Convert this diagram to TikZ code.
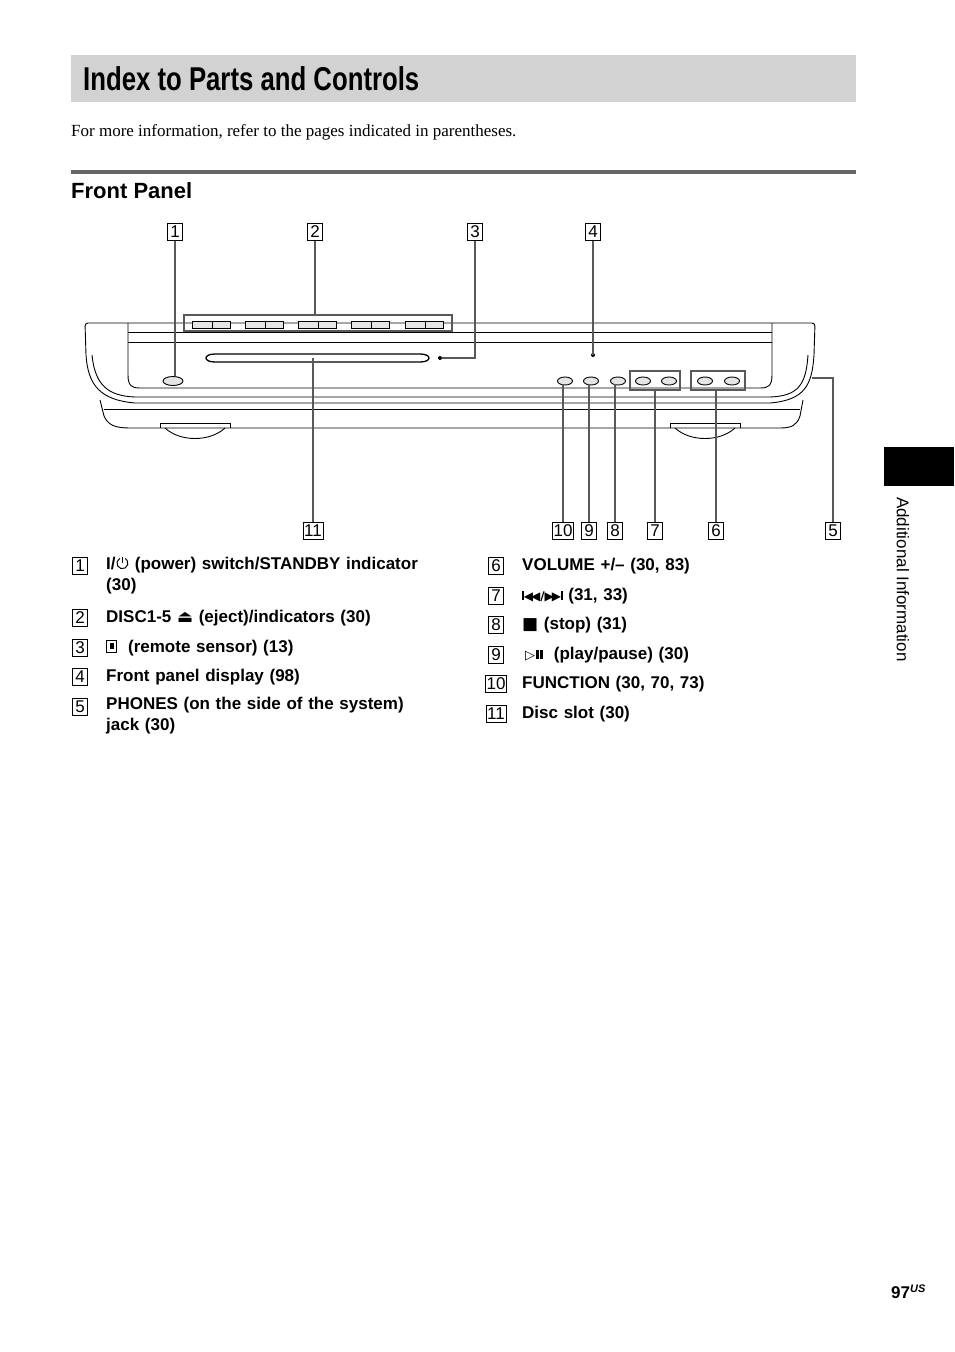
\documentclass[tikz,border=0pt]{standalone}
\usepackage{fontspec}
\setmainfont{Liberation Serif}
\setsansfont{Liberation Sans}
\newfontfamily\symfont{DejaVu Sans}
\newcommand\powersym{\tikz[baseline=0pt, line width=1pt]{\draw (120:5.5pt) ++(0,6pt) arc[start angle=120, end angle=420, radius=5.5pt]; \draw (0,6pt) -- (0,12.5pt);}}
\begin{document}
\begin{tikzpicture}[x=1pt,y=-1pt,
		numbox/.style={draw, font=\sffamily\fontsize{17}{17}\selectfont, inner sep=1.2pt, minimum width=15pt, minimum height=17pt},
		leader/.style={draw=gray!70!black, line width=1.6pt},
		body/.style={draw, line width=0.9pt},
		btn/.style={draw, line width=0.9pt, fill=gray!20},
		legend/.style={anchor=west, font=\sffamily\bfseries\fontsize{17}{21}\selectfont, align=left, text width=340pt},
		every node/.append style={inner sep=0pt}
		]
		\useasboundingbox (0,0) rectangle (954,1352);
		
		% Header
		\fill[gray!35] (71,55) rectangle (856,102);
		\node[anchor=west, font=\sffamily\bfseries\fontsize{33}{33}\selectfont] (title) at (83,79) {\scalebox{0.78}[1]{Index to Parts and Controls}};
		\node[anchor=west, font=\fontsize{17}{17}\selectfont] (intro) at (71,132) {For more information, refer to the pages indicated in parentheses.};
		\draw[gray!80!black, line width=3.5pt] (71,172) -- (856,172);
		\node[anchor=west, font=\sffamily\bfseries\fontsize{22}{22}\selectfont] (front) at (71,191) {Front Panel};
		
		% Side tab
		\fill (884,447) rectangle (954,486);
		\node[rotate=-90, anchor=west, font=\sffamily\fontsize{17}{17}\selectfont] (side) at (903,497) {Additional Information};
		\node[anchor=west, font=\sffamily\bfseries\fontsize{17}{17}\selectfont] (page) at (891,1292) {97\textsuperscript{\textit{\fontsize{11}{11}\selectfont US}}};
		
		% Unit body
		\draw[body, rounded corners=3pt] (86,355) -- (85,323) -- (815,323) -- (814,355);
		\draw[body] (86,355) .. controls (88,385) and (100,400) .. (135,403) -- (770,403) .. controls (805,400) and (812,385) .. (814,355);
		\draw[body] (92,355) .. controls (95,385) and (108,396) .. (135,397) -- (770,397) .. controls (798,396) and (806,385) .. (808,355);
		\draw[body] (100,400) -- (104,416) .. controls (108,425) and (115,428) .. (130,428) -- (780,428) .. controls (792,428) and (797,425) .. (800,416) -- (803,400);
		\draw[body] (104,409) -- (800,409);
		\draw[body] (128,332) -- (772,332);
		\draw[body] (128,342) -- (772,342);
		\draw[body] (128,323) -- (128,375) .. controls (128,386) and (132,388) .. (140,388) -- (760,388) .. controls (768,388) and (772,386) .. (772,375) -- (772,323);
		% Feet
		\foreach \fx in {195,705}{
			\draw[body] (\fx-35,423) -- (\fx-35,428) (\fx+35,423) -- (\fx+35,428);
			\draw[body] (\fx-35,423) -- (\fx+35,423);
			\draw[body] (\fx-30,428) .. controls (\fx-15,442) and (\fx+15,442) .. (\fx+30,428);
		}
		% Disc slot, sensor, display
		\draw[body, line width=1.3pt] (215,354) -- (420,354) .. controls (432,354) and (432,362) .. (420,362) -- (215,362) .. controls (203,362) and (203,354) .. (215,354);
		\fill (440,358) circle (2pt);
		\fill (593,355) circle (2pt);
		% Disc buttons
		\foreach \bx in {192,245,298,351,405}{
			\draw[btn] (\bx,321) rectangle (\bx+20,328);
			\draw[btn] (\bx+20,321) rectangle (\bx+38,328);
		}
		\draw[gray!70!black, line width=1.6pt] (184,315) rectangle (452,331);
		% Power and control buttons
		\draw[btn] (173,381) ellipse (10pt and 4.5pt);
		\foreach \cx in {565,591,618,643,669,705,732}{
			\draw[btn] (\cx,381) ellipse (7.5pt and 4pt);
		}
		\draw[gray!70!black, line width=1.6pt] (630,371) rectangle (680,390);
		\draw[gray!70!black, line width=1.6pt] (691,371) rectangle (745,390);
		
		% Labels
		\node[numbox] (n1) at (175,232) {1};
		\node[numbox] (n2) at (315,232) {2};
		\node[numbox] (n3) at (475,232) {3};
		\node[numbox] (n4) at (593,232) {4};
		\node[numbox] (n11) at (313,531) {11};
		\node[numbox] (n10) at (563,531) {10};
		\node[numbox] (n9) at (589,531) {9};
		\node[numbox] (n8) at (615,531) {8};
		\node[numbox] (n7) at (655,531) {7};
		\node[numbox] (n6) at (716,531) {6};
		\node[numbox] (n5) at (833,531) {5};
		\coordinate (p1) at (175,376);
		\coordinate (p2) at (315,315);
		\coordinate (p3) at (475,358);
		\coordinate (p3e) at (442,358);
		\coordinate (p4) at (593,355);
		\coordinate (p11) at (313,358);
		\coordinate (p10) at (563,384);
		\coordinate (p9) at (589,384);
		\coordinate (p8) at (615,384);
		\coordinate (p7) at (655,390);
		\coordinate (p6) at (716,390);
		\coordinate (p5) at (833,378);
		\coordinate (p5e) at (812,378);
		\draw[leader] (n1) -- (p1);
		\draw[leader] (n2) -- (p2);
		\draw[leader] (n3) -- (p3) -- (p3e);
		\draw[leader] (n4) -- (p4);
		\draw[leader] (n11) -- (p11);
		\draw[leader] (n10) -- (p10);
		\draw[leader] (n9) -- (p9);
		\draw[leader] (n8) -- (p8);
		\draw[leader] (n7) -- (p7);
		\draw[leader] (n6) -- (p6);
		\draw[leader] (n5) -- (p5) -- (p5e);
		
		% Legend, left column
		\node[numbox] (l1) at (80,566) {1};
		\node[legend, anchor=north west] (t1) at (106,556) {I/\powersym\ (power) switch/STANDBY indicator\\(30)};
		\node[numbox] (l2) at (80,618) {2};
		\node[legend] (t2) at (106,618) {DISC1-5 {\symfont ⏏} (eject)/indicators (30)};
		\node[numbox] (l3) at (80,648) {3};
		\node[legend] (t3) at (106,648) {\tikz[baseline=0pt]{\draw[line width=0.6pt] (0,0) rectangle (10pt,12pt);\fill (3pt,3pt) rectangle (7pt,9pt);}\ \ (remote sensor) (13)};
		\node[numbox] (l4) at (80,677) {4};
		\node[legend] (t4) at (106,677) {Front panel display (98)};
		\node[numbox] (l5) at (80,707) {5};
		\node[legend, anchor=north west] (t5) at (106,697) {PHONES (on the side of the system)\\jack (30)};
		
		% Legend, right column
		\node[numbox] (l6) at (496,566) {6};
		\node[legend] (t6) at (522,566) {VOLUME +/– (30, 83)};
		\node[numbox] (l7) at (496,596) {7};
		\node[legend] (t7) at (522,596) {{\symfont\fontsize{12}{12}\selectfont\rule{1.6pt}{9pt}◀\kern-2pt◀/▶\kern-2pt▶\rule{1.6pt}{9pt}} (31, 33)};
		\node[numbox] (l8) at (496,625) {8};
		\node[legend] (t8) at (522,625) {{\symfont ■} (stop) (31)};
		\node[numbox] (l9) at (496,655) {9};
		\node[legend] (t9) at (522,655) {\,{\symfont\fontsize{13}{13}\selectfont ▷}\kern1pt\rule{2.5pt}{9pt}\kern1.5pt\rule{2.5pt}{9pt}\ \ (play/pause) (30)};
		\node[numbox] (l10) at (496,684) {10};
		\node[legend] (t10) at (522,684) {FUNCTION (30, 70, 73)};
		\node[numbox] (l11) at (496,714) {11};
		\node[legend] (t11) at (522,714) {Disc slot (30)};
		
	\end{tikzpicture}
\end{document}
